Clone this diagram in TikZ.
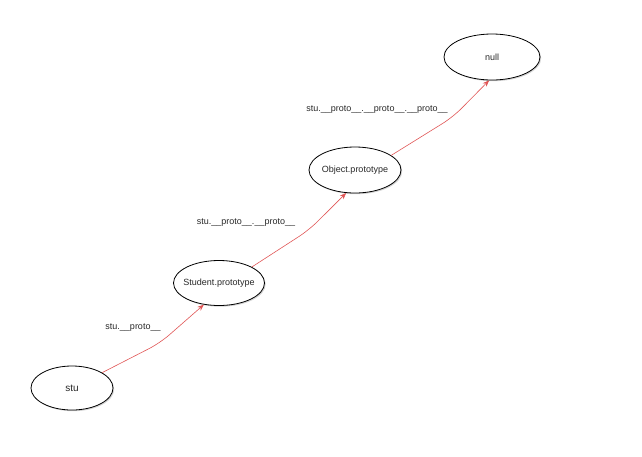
\documentclass[tikz,border=0pt]{standalone}
\usepackage{fontspec}
\setmainfont{Liberation Sans}
\usepackage{tikz}
\usetikzlibrary{arrows.meta,shadows,shapes.geometric}
\definecolor{linkred}{RGB}{224,86,86}
\definecolor{textgray}{RGB}{40,40,40}

\begin{document}
\begin{tikzpicture}[x=1pt,y=-1pt,
  obj/.style={ellipse, draw, thick, fill=white, minimum width=#1, minimum height=46pt,
    inner sep=0pt, drop shadow={shadow xshift=1.2pt, shadow yshift=-1.2pt, opacity=0.35}},
  ntext/.style={font=\fontsize{9}{11}\selectfont, text=textgray, inner sep=0pt},
  link/.style={linkred, line width=0.6pt, rounded corners=12pt, -{Stealth[length=6.5pt,width=5pt]}},
  lbl/.style={font=\fontsize{9}{11}\selectfont, text=textgray}]
  \useasboundingbox (0,0) rectangle (642,456);
  % Prototype chain
  \node[obj=82pt, minimum height=44pt, label={[ntext, font=\fontsize{10}{12}\selectfont]center:stu}] (stu) at (72,388) {};
  \node[obj=91pt, minimum height=45pt, label={[ntext]center:Student.prototype}] (stud) at (219,283) {};
  \node[obj=92pt, label={[ntext]center:Object.prototype}] (objp) at (355,170) {};
  \node[obj=96pt, label={[ntext]center:null}] (null) at (492,57) {};

  \coordinate (b1) at (160,343);
  \coordinate (b2) at (309,230);
  \coordinate (b3) at (453,117);

  \draw[link] (stu.27) -- (b1) -- (stud.235);
  \draw[link] (stud.26) -- (b2) -- (objp.249);
  \draw[link] (objp.22) -- (b3) -- (null.263);

  \node[lbl] (l1) at (133,328) {stu.\_\_proto\_\_};
  \node[lbl] (l2) at (246,223) {stu.\_\_proto\_\_.\_\_proto\_\_};
  \node[lbl] (l3) at (377,110) {stu.\_\_proto\_\_.\_\_proto\_\_.\_\_proto\_\_};
\end{tikzpicture}
\end{document}
